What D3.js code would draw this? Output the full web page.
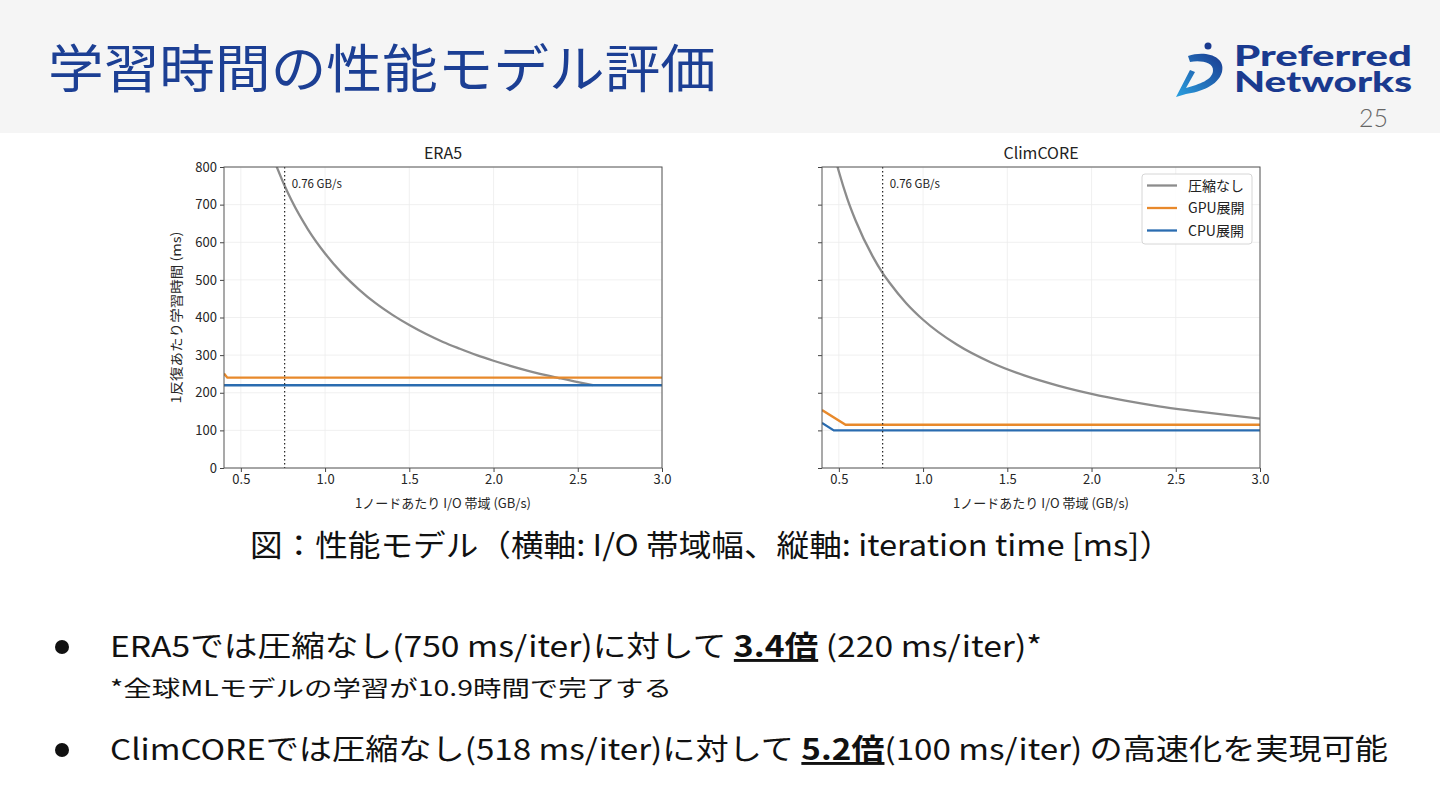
<!DOCTYPE html>
<html>
<head>
<meta charset="utf-8">
<script src="https://cdn.jsdelivr.net/npm/d3@7"></script>
<style>
  html, body { margin: 0; padding: 0; background: #fff; }
  svg { display: block; }
</style>
</head>
<body>
<svg id="slide" width="1440" height="810"></svg>
<script>
'use strict';

// ---- data ----
var xTicks = [0.5, 1.0, 1.5, 2.0, 2.5, 3.0];
var yTicks = [0, 100, 200, 300, 400, 500, 600, 700, 800];
var seriesNames = ['圧縮なし', 'GPU展開', 'CPU展開'];
var seriesColors = ['#8c8c8c', '#e8892b', '#2a6cb0'];
var markerX = 0.76;
var markerLabel = '0.76 GB/s';

// ERA5
var era5RawX = [0.70, 0.76, 0.80, 0.90, 1.00, 1.10, 1.20, 1.30, 1.40, 1.50, 1.60, 1.70, 1.80, 1.90, 2.00, 2.20, 2.40, 2.59];
var era5RawY = [815, 750, 712, 633, 570, 518, 475, 438, 407, 380, 356, 335, 317, 300, 285, 259, 238, 220];
var era5GpuX = [0.40, 0.42, 3.00];
var era5GpuY = [251, 240, 240];
var era5CpuX = [0.40, 3.00];
var era5CpuY = [220, 220];

// ClimCORE
var climRawX = [0.47, 0.50, 0.55, 0.60, 0.70, 0.76, 0.80, 0.90, 1.00, 1.20, 1.40, 1.60, 1.80, 2.00, 2.20, 2.40, 2.60, 2.80, 3.00];
var climRawY = [838, 788, 716, 657, 563, 518, 493, 438, 394, 328, 281, 246, 219, 197, 179, 164, 152, 141, 131];
var climGpuX = [0.40, 0.54, 3.00];
var climGpuY = [154, 115, 115];
var climCpuX = [0.40, 0.47, 3.00];
var climCpuY = [120, 100, 100];

var svg = d3.select('#slide');
var defs = svg.append('defs');
var jp = '"Noto Sans CJK JP", "Noto Sans", sans-serif';

//Header band
svg.append('rect').attr('x', 0).attr('y', 0).attr('width', 1440).attr('height', 133).attr('fill', '#f5f5f5');
svg.append('text')
  .attr('x', 48).attr('y', 88)
  .attr('font-family', jp).attr('font-size', 52)
  .attr('fill', '#1c3f94')
  .attr('textLength', 668).attr('lengthAdjust', 'spacingAndGlyphs')
  .text('学習時間の性能モデル評価');

//Logo
var logo = svg.append('g');
var grad = defs.append('linearGradient').attr('id', 'pfnGrad')
  .attr('x1', '0').attr('y1', '1').attr('x2', '1').attr('y2', '0');
grad.append('stop').attr('offset', '0').attr('stop-color', '#2aa0e0');
grad.append('stop').attr('offset', '1').attr('stop-color', '#1a3a8f');
logo.append('circle').attr('cx', 1208).attr('cy', 46).attr('r', 3.5).attr('fill', '#1a3a8f');
logo.append('path')
  .attr('d', 'M1188,56 C1205,50 1226,56 1222,72 C1218,86 1200,92 1186,94 L1176,97 L1190,70 L1195,72 L1186,88 C1200,84 1212,80 1213,71 C1214,62 1200,60 1190,62 Z')
  .attr('fill', 'url(#pfnGrad)');
logo.append('text').attr('x', 1234).attr('y', 66)
  .attr('font-family', 'Lato, "Open Sans", sans-serif').attr('font-weight', 900).attr('font-size', 28)
  .attr('fill', '#1a3a8f').attr('textLength', 178).attr('lengthAdjust', 'spacingAndGlyphs')
  .text('Preferred');
logo.append('text').attr('x', 1234).attr('y', 92)
  .attr('font-family', 'Lato, "Open Sans", sans-serif').attr('font-weight', 900).attr('font-size', 28)
  .attr('fill', '#1a3a8f').attr('textLength', 178).attr('lengthAdjust', 'spacingAndGlyphs')
  .text('Networks');
svg.append('text').attr('x', 1388).attr('y', 127).attr('text-anchor', 'end')
  .attr('font-family', 'Lato, sans-serif').attr('font-weight', 300).attr('font-size', 25)
  .attr('fill', '#666').text('25');

//Draw one panel
var panel = function(opts){
  var left = opts.left, right = opts.right, top = 167, bottom = 468;
  var x = d3.scaleLinear().domain([0.4, 3.0]).range([left, right]);
  var y = d3.scaleLinear().domain([0, 800]).range([bottom, top]);
  var g = svg.append('g');

  //grid
  g.selectAll('.gx').data(xTicks).enter().append('line')
    .attr('x1', function(d){ return x(d); }).attr('x2', function(d){ return x(d); })
    .attr('y1', top).attr('y2', bottom)
    .attr('stroke', '#ececec').attr('stroke-width', 0.8);
  g.selectAll('.gy').data(yTicks).enter().append('line')
    .attr('x1', left).attr('x2', right)
    .attr('y1', function(d){ return y(d); }).attr('y2', function(d){ return y(d); })
    .attr('stroke', '#ececec').attr('stroke-width', 0.8);

  //clip
  var clipId = 'clip' + opts.id;
  defs.append('clipPath').attr('id', clipId)
    .append('rect').attr('x', left).attr('y', top).attr('width', right - left).attr('height', bottom - top);

  var line = d3.line().x(function(d){ return x(d[0]); }).y(function(d){ return y(d[1]); });
  var lines = g.append('g').attr('clip-path', 'url(#' + clipId + ')');
  opts.series.forEach(function(s, i){
    var pts = d3.zip(s[0], s[1]);
    lines.append('path')
      .attr('d', line.curve(i === 0 ? d3.curveMonotoneX : d3.curveLinear)(pts))
      .attr('fill', 'none')
      .attr('stroke', seriesColors[i])
      .attr('stroke-width', 2.3);
  });

  //marker
  g.append('line')
    .attr('x1', x(markerX)).attr('x2', x(markerX))
    .attr('y1', top).attr('y2', bottom)
    .attr('stroke', '#222').attr('stroke-width', 1.2).attr('stroke-dasharray', '1.5,2.5');
  g.append('text')
    .attr('x', x(markerX) + 7).attr('y', 188)
    .attr('font-family', jp).attr('font-size', 11.5).attr('fill', '#222')
    .text(markerLabel);

  //axes
  var xAxis = d3.axisBottom(x).tickValues(xTicks).tickFormat(d3.format('.1f')).tickSize(4).tickPadding(3);
  var yAxis = d3.axisLeft(y).tickValues(yTicks).tickSize(4).tickPadding(3);
  if(!opts.yLabels){ yAxis.tickFormat(''); }
  var gx = g.append('g').attr('transform', 'translate(0,' + bottom + ')').call(xAxis);
  var gy = g.append('g').attr('transform', 'translate(' + left + ',0)').call(yAxis);
  [gx, gy].forEach(function(a){
    a.select('.domain').remove();
    a.selectAll('line').attr('stroke', '#444');
    a.selectAll('text').attr('font-family', jp).attr('font-size', 13).attr('fill', '#262626');
  });

  //frame
  g.append('rect').attr('x', left).attr('y', top).attr('width', right - left).attr('height', bottom - top)
    .attr('fill', 'none').attr('stroke', '#555').attr('stroke-width', 1);

  //title and axis labels
  g.append('text').attr('x', (left + right) / 2).attr('y', 159).attr('text-anchor', 'middle')
    .attr('font-family', jp).attr('font-size', 16).attr('fill', '#222').text(opts.title);
  g.append('text').attr('x', (left + right) / 2).attr('y', 508).attr('text-anchor', 'middle')
    .attr('font-family', jp).attr('font-size', 13).attr('fill', '#262626').text('1ノードあたり I/O 帯域 (GB/s)');
  if(opts.yLabels){
    g.append('text').attr('transform', 'translate(181,' + ((top + bottom) / 2) + ') rotate(-90)')
      .attr('text-anchor', 'middle')
      .attr('font-family', jp).attr('font-size', 13).attr('fill', '#262626')
      .attr('textLength', 172).attr('lengthAdjust', 'spacingAndGlyphs')
      .text('1反復あたり学習時間 (ms)');
  }

  //legend
  if(opts.legend){
    var lg = g.append('g').attr('transform', 'translate(1142,174)');
    lg.append('rect').attr('width', 110).attr('height', 70).attr('rx', 3)
      .attr('fill', '#fff').attr('fill-opacity', 0.85).attr('stroke', '#d6d6d6');
    seriesNames.forEach(function(n, i){
      var yy = 11.5 + i * 22.5;
      lg.append('line').attr('x1', 5).attr('x2', 35).attr('y1', yy).attr('y2', yy)
        .attr('stroke', seriesColors[i]).attr('stroke-width', 2.3);
      lg.append('text').attr('x', 46).attr('y', yy + 5)
        .attr('font-family', jp).attr('font-size', 14).attr('fill', '#222').text(n);
    });
  }
};

panel({id: 'era5', title: 'ERA5', left: 224, right: 662, yLabels: true, legend: false,
  series: [[era5RawX, era5RawY], [era5GpuX, era5GpuY], [era5CpuX, era5CpuY]]});
panel({id: 'clim', title: 'ClimCORE', left: 822, right: 1260, yLabels: false, legend: true,
  series: [[climRawX, climRawY], [climGpuX, climGpuY], [climCpuX, climCpuY]]});

//Caption
svg.append('text').attr('x', 250).attr('y', 556)
  .attr('font-family', jp).attr('font-size', 30).attr('fill', '#111')
  .attr('textLength', 922).attr('lengthAdjust', 'spacingAndGlyphs')
  .text('図：性能モデル（横軸: I/O 帯域幅、縦軸: iteration time [ms]）');

//Bullets
var bullet = function(yy, parts, width){
  svg.append('circle').attr('cx', 62).attr('cy', yy - 10).attr('r', 7).attr('fill', '#111');
  var t = svg.append('text').attr('x', 110).attr('y', yy)
    .attr('font-family', jp).attr('font-size', 29).attr('fill', '#111')
    .attr('textLength', width).attr('lengthAdjust', 'spacingAndGlyphs');
  parts.forEach(function(p){
    var ts = t.append('tspan').text(p.t);
    if(p.b){ ts.attr('font-weight', 700).attr('text-decoration', 'underline'); }
  });
};
bullet(657, [{t: 'ERA5では圧縮なし(750 ms/iter)に対して '}, {t: '3.4倍', b: true}, {t: ' (220 ms/iter)*'}], 932);
svg.append('text').attr('x', 110).attr('y', 696)
  .attr('font-family', jp).attr('font-size', 22).attr('fill', '#111')
  .attr('textLength', 562).attr('lengthAdjust', 'spacingAndGlyphs')
  .text('*全球MLモデルの学習が10.9時間で完了する');
bullet(760, [{t: 'ClimCOREでは圧縮なし(518 ms/iter)に対して '}, {t: '5.2倍', b: true}, {t: '(100 ms/iter) の高速化を実現可能'}], 1278);
</script>
</body>
</html>
